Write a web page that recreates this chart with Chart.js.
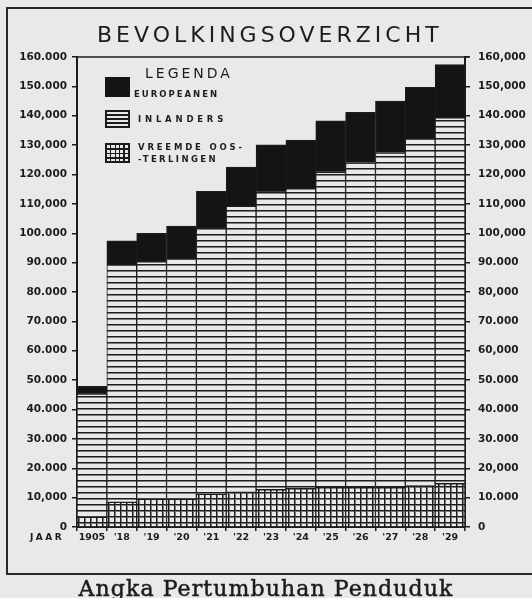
<!DOCTYPE html>
<html>
<head>
<meta charset="utf-8">
<script src="https://cdn.jsdelivr.net/npm/chart.js@4/dist/chart.umd.min.js"></script>
<style>
  html, body { margin:0; padding:0; }
  body { width:532px; height:598px; background:#e9e9e7; position:relative; overflow:hidden; color:#1c1c1c; font-family:"DejaVu Sans", sans-serif; }
  #frame { position:absolute; left:6px; top:7px; width:560px; height:564px; border-top:2px solid #2a2a2a; border-left:2px solid #2a2a2a; border-bottom:2px solid #2a2a2a; }
  #chartBox { position:absolute; left:0; top:0; width:532px; height:598px; }
  .t { position:absolute; white-space:nowrap; }
  #title { left:97px; top:24px; font-size:22px; line-height:22px; letter-spacing:4px; }
  #caption { left:0; width:532px; text-align:center; top:578px; font-family:"DejaVu Serif", serif; font-size:22px; line-height:22px; letter-spacing:1.1px; -webkit-text-stroke:0.5px #1c1c1c; }
  #legTitle { left:145px; top:66px; font-size:14px; line-height:14px; letter-spacing:3px; }
  .lab { font-size:8.5px; line-height:8.5px; font-weight:bold; letter-spacing:3px; }
  .sw { position:absolute; box-sizing:border-box; }
  #swE { left:105px; top:77px; width:25px; height:20px; background:#141414; }
  #swI { left:105px; top:110px; width:25px; height:18px; border:2px solid #1c1c1c; background:repeating-linear-gradient(to bottom, transparent 0 2.5px, #1c1c1c 2.5px 4px); }
  #swV { left:105px; top:143px; width:25px; height:20px; border:2px solid #1c1c1c;
    background:
      repeating-linear-gradient(to right, transparent 0 3px, #1c1c1c 3px 4.5px),
      repeating-linear-gradient(to bottom, transparent 0 3px, #1c1c1c 3px 4.5px); }
  #jaar { left:30px; top:533px; font-size:9px; line-height:9px; font-weight:bold; letter-spacing:2.5px; }
</style>
</head>
<body>
<div id="frame"></div>
<div id="chartBox"><canvas id="c" width="532" height="598"></canvas></div>
<div class="t" id="title">BEVOLKINGSOVERZICHT</div>
<div class="sw" id="swE"></div>
<div class="sw" id="swI"></div>
<div class="sw" id="swV"></div>
<div class="t" id="legTitle">LEGENDA</div>
<div class="t lab" id="lE" style="left:134px; top:90px; letter-spacing:2px;">EUROPEANEN</div>
<div class="t lab" id="lI" style="left:138px; top:115px; letter-spacing:3.8px;">INLANDERS</div>
<div class="t lab" id="lV1" style="left:138px; top:143px; letter-spacing:2.8px;">VREEMDE OOS-</div>
<div class="t lab" id="lV2" style="left:138px; top:155px; letter-spacing:2.4px;">-TERLINGEN</div>
<div class="t" id="jaar">JAAR</div>
<div class="t" id="caption">Angka Pertumbuhan Penduduk</div>
<script>
// ---- data ----
const years = ["1905", "'18", "'19", "'20", "'21", "'22", "'23", "'24", "'25", "'26", "'27", "'28", "'29"];
const vreemdeOosterlingen = [3500, 8600, 9600, 9600, 11300, 12000, 12800, 13200, 13500, 13500, 13500, 14100, 14900];
const inlanders = [41900, 80800, 80800, 81900, 90700, 97300, 101300, 102100, 107400, 110600, 114000, 118200, 124600];
const europeanen = [2500, 8000, 9600, 10900, 12300, 13200, 16000, 16400, 17400, 17100, 17500, 17400, 17900];
const leftTickLabels = ["0", "10,000", "20.000", "30.000", "40.000", "50.000", "60.000", "70.000", "80.000", "90.000", "100.000", "110,000", "120.000", "130,000", "140,000", "150.000", "160.000"];
const rightTickLabels = ["0", "10.000", "20,000", "30.000", "40.000", "50.000", "60,000", "70.000", "80,000", "90.000", "100,000", "110,000", "120,000", "130,000", "140.000", "150,000", "160,000"];
const seriesNames = ["Vreemde Oosterlingen", "Inlanders", "Europeanen"];

const INK = "#1c1c1c";
const PAPER = "#e9e9e7";

function makePattern(kind) {
  const cv = document.createElement("canvas");
  cv.width = 6; cv.height = 6;
  const g = cv.getContext("2d");
  g.fillStyle = PAPER; g.fillRect(0, 0, 6, 6);
  g.fillStyle = "#7d7d7d";
  g.fillRect(0, 1, 6, 1);
  if (kind === "grid") g.fillRect(1, 0, 1, 6);
  g.fillStyle = INK;
  g.fillRect(0, 0, 6, 1);
  if (kind === "grid") g.fillRect(0, 0, 1, 6);
  return g.createPattern(cv, "repeat");
}
const ctx = document.getElementById("c").getContext("2d");
const hatch = makePattern("lines");
const grid = makePattern("grid");

const frameTop = {
  id: "frameTop",
  afterDatasetsDraw(chart) {
    const a = chart.chartArea, c = chart.ctx;
    c.save();
    c.strokeStyle = INK; c.lineWidth = 1.5;
    c.beginPath(); c.moveTo(a.left, a.top); c.lineTo(a.right + 4, a.top); c.stroke();
    c.restore();
  }
};

const barBorder = { top: 1.5, left: 1, right: 1, bottom: 0 };
const tickFont = { family: "DejaVu Sans", size: 10.5, weight: "bold" };

new Chart(ctx, {
  type: "bar",
  data: {
    labels: years,
    datasets: [
      { label: seriesNames[0], data: vreemdeOosterlingen, backgroundColor: grid, borderColor: INK, borderWidth: barBorder, borderSkipped: false },
      { label: seriesNames[1], data: inlanders, backgroundColor: hatch, borderColor: INK, borderWidth: barBorder, borderSkipped: false },
      { label: seriesNames[2], data: europeanen, backgroundColor: "#141414", borderColor: INK, borderWidth: barBorder, borderSkipped: false }
    ]
  },
  options: {
    responsive: false,
    devicePixelRatio: 1,
    animation: false,
    layout: { padding: { top: 57, left: 0, right: 0, bottom: 0 } },
    datasets: { bar: { categoryPercentage: 1, barPercentage: 1 } },
    plugins: { legend: { display: false }, title: { display: false }, tooltip: { enabled: false } },
    scales: {
      x: {
        stacked: true,
        afterFit(s) { s.height = 71; },
        grid: { offset: true, drawOnChartArea: false, tickLength: 4, color: INK, lineWidth: 1.5 },
        border: { color: INK, width: 2 },
        ticks: { color: INK, font: { family: "DejaVu Sans", size: 9.5, weight: "bold" }, padding: 1, maxRotation: 0, autoSkip: false }
      },
      y: {
        stacked: true, position: "left", min: 0, max: 160000,
        afterFit(s) { s.width = 77; },
        grid: { drawOnChartArea: false, tickLength: 5, color: INK, lineWidth: 1.5 },
        border: { color: INK, width: 2 },
        ticks: { stepSize: 10000, color: INK, font: tickFont, padding: 5,
          callback: (v) => leftTickLabels[Math.round(v / 10000)] }
      },
      y2: {
        position: "right", min: 0, max: 160000,
        afterFit(s) { s.width = 67; },
        grid: { drawOnChartArea: false, tickLength: 5, color: INK, lineWidth: 1.5 },
        border: { color: INK, width: 2 },
        ticks: { stepSize: 10000, color: INK, font: tickFont, padding: 8,
          callback: (v) => rightTickLabels[Math.round(v / 10000)] }
      }
    }
  },
  plugins: [frameTop]
});
</script>
</body>
</html>
